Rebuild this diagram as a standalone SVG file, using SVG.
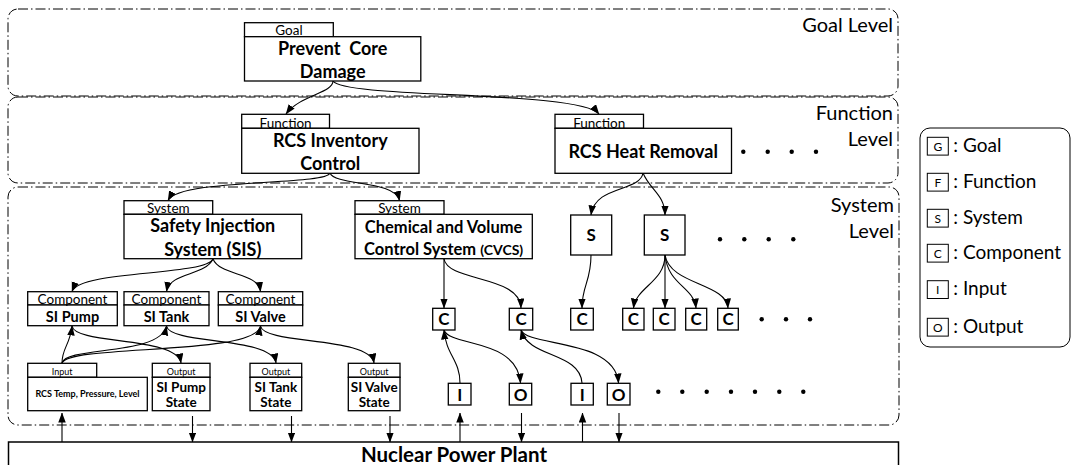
<svg xmlns="http://www.w3.org/2000/svg" width="1074" height="465" viewBox="0 0 1074 465">
<style>
.lvl{fill:none;stroke:#000;stroke-width:1;stroke-dasharray:10 3 1.5 3}
.box{fill:#fff;stroke:#000;stroke-width:1.3}
.t{font-family:Lato,"Open Sans",sans-serif;fill:#000}
.b{font-weight:bold}
.c{text-anchor:middle}
.lv{font-size:20px;text-anchor:end}
.tab{font-size:13.5px}
.main{font-size:18px;font-weight:bold}
.cmp{font-size:14.5px;font-weight:bold}
.let{font-size:17px;font-weight:bold}
.sm{font-size:9px}
.con{fill:none;stroke:#000;stroke-width:1.1}
.dot{fill:#000}
.lg{font-size:19px}
.lgl{font-size:12px}
</style>
<defs>
<marker id="ah" markerUnits="userSpaceOnUse" markerWidth="10" markerHeight="8" refX="9.5" refY="3.75" orient="auto">
<path d="M0,0 L10,3.75 L0,7.5 z" fill="#000"/>
</marker>
</defs>

<g id="levels">
<rect class="lvl" x="8" y="9" width="890" height="87" rx="10"/>
<rect class="lvl" x="8" y="97" width="890" height="86" rx="10"/>
<rect class="lvl" x="8" y="187" width="891" height="238" rx="10"/>
<text class="t lv" x="893" y="31.5">Goal Level</text>
<text class="t lv" x="893" y="120">Function</text>
<text class="t lv" x="893" y="145.5">Level</text>
<text class="t lv" x="894" y="211.5">System</text>
<text class="t lv" x="894" y="238">Level</text>
</g>

<g id="connectors">
<path class="con" marker-end="url(#ah)" d="M333,81 C333,93 300,95 286,114"/>
<path class="con" marker-end="url(#ah)" d="M333,81 C345,99 580,90 599,114"/>
<path class="con" marker-end="url(#ah)" d="M330,173 C325,186 180,178 168,200.5"/>
<path class="con" marker-end="url(#ah)" d="M330,173 C335,186 395,180 399.5,200.5"/>
<path class="con" marker-end="url(#ah)" d="M643,173 C640,192 595,185 591,215"/>
<path class="con" marker-end="url(#ah)" d="M643,173 C650,190 665,195 665,215"/>
<path class="con" marker-end="url(#ah)" d="M213,259 C205,276 80,270 72,291.5"/>
<path class="con" marker-end="url(#ah)" d="M213,259 C205,276 170,272 166.5,291.5"/>
<path class="con" marker-end="url(#ah)" d="M213,259 C220,276 258,272 260.5,291.5"/>
<path class="con" marker-end="url(#ah)" d="M444,259 L444,308"/>
<path class="con" marker-end="url(#ah)" d="M444,259 C448,282 520,275 521,308"/>
<path class="con" marker-end="url(#ah)" d="M591,255 C591,282 582,285 582,308"/>
<path class="con" marker-end="url(#ah)" d="M665,255 C665,282 636,287 633.5,308"/>
<path class="con" marker-end="url(#ah)" d="M665,255 L665,308"/>
<path class="con" marker-end="url(#ah)" d="M665,255 C668,285 694,287 696,308"/>
<path class="con" marker-end="url(#ah)" d="M665,255 C670,285 726,283 728,308"/>
<path class="con" marker-end="url(#ah)" d="M72,326 C75,345 177,336 181,363"/>
<path class="con" marker-end="url(#ah)" d="M166.5,326 C170,345 272,336 276,363"/>
<path class="con" marker-end="url(#ah)" d="M260.5,326 C264,345 370,336 374,363"/>
<path class="con" marker-end="url(#ah)" d="M62,363 C62,348 70,345 72,326"/>
<path class="con" marker-end="url(#ah)" d="M62,363 C66,346 160,356 166.5,326"/>
<path class="con" marker-end="url(#ah)" d="M62,363 C70,344 255,356 260.5,326"/>
<path class="con" marker-end="url(#ah)" d="M444,330 C450,347 517,338 520.5,383"/>
<path class="con" marker-end="url(#ah)" d="M460,383 C460,360 446,355 444,330"/>
<path class="con" marker-end="url(#ah)" d="M521,330 C527,347 615,338 618.5,383"/>
<path class="con" marker-end="url(#ah)" d="M582,383 C580,352 528,358 521,330"/>
<path class="con" marker-end="url(#ah)" d="M62,442 L62,413"/>
<path class="con" marker-end="url(#ah)" d="M192.5,416 L192.5,442"/>
<path class="con" marker-end="url(#ah)" d="M291.5,416 L291.5,442"/>
<path class="con" marker-end="url(#ah)" d="M390,416 L390,442"/>
<path class="con" marker-end="url(#ah)" d="M460,442 L460,413"/>
<path class="con" marker-end="url(#ah)" d="M521.5,413 L521.5,442"/>
<path class="con" marker-end="url(#ah)" d="M582.5,442 L582.5,413"/>
<path class="con" marker-end="url(#ah)" d="M619,413 L619,442"/>
</g>

<g id="goal">
<rect class="box" x="244.5" y="22.7" width="88.8" height="14"/>
<rect class="box" x="244.5" y="36.7" width="176.3" height="44.3"/>
<text class="t tab c" x="289" y="35">Goal</text>
<text class="t main c" x="332.7" y="54.5" xml:space="preserve">Prevent  Core</text>
<text class="t main c" x="332.7" y="77.5">Damage</text>
</g>

<g id="func-inventory">
<rect class="box" x="241.7" y="114.3" width="87.8" height="14"/>
<rect class="box" x="241.7" y="128.3" width="177.3" height="45"/>
<text class="t tab c" x="285.6" y="127.5">Function</text>
<text class="t main c" x="330.3" y="146.7">RCS Inventory</text>
<text class="t main c" x="330.3" y="170">Control</text>
</g>

<g id="func-heat">
<rect class="box" x="555" y="114.3" width="88.5" height="14"/>
<rect class="box" x="555" y="128.3" width="176.5" height="45"/>
<text class="t tab c" x="599.2" y="127.5">Function</text>
<text class="t main c" x="643.2" y="157.7">RCS Heat Removal</text>
</g>

<g id="sys-sis">
<rect class="box" x="124" y="200.7" width="88.7" height="13.6"/>
<rect class="box" x="124" y="214.3" width="177.7" height="44.4"/>
<text class="t tab c" x="168.3" y="213">System</text>
<text class="t main c" x="212.8" y="232.3">Safety Injection</text>
<text class="t main c" x="212.8" y="256">System (SIS)</text>
</g>

<g id="sys-cvcs">
<rect class="box" x="355" y="200.7" width="89" height="13.6"/>
<rect class="box" x="355" y="214.3" width="177.3" height="44.4"/>
<text class="t tab c" x="399.5" y="213">System</text>
<text class="t b c" x="443.6" y="233.3" font-size="16.5">Chemical and Volume</text>
<text class="t b c" x="443.6" y="255" font-size="16.5">Control System <tspan font-size="14">(CVCS)</tspan></text>
</g>

<g id="sys-s1"><rect class="box" x="570.7" y="215" width="41" height="40"/><text class="t let c" x="591.2" y="241">S</text></g>
<g id="sys-s2"><rect class="box" x="644.3" y="215" width="40.7" height="40"/><text class="t let c" x="664.7" y="241">S</text></g>

<g id="comp-pump">
<rect class="box" x="27.7" y="291.7" width="89.6" height="13.3"/>
<rect class="box" x="27.7" y="305" width="89.6" height="20.7"/>
<text class="t tab c" x="72.5" y="304" font-size="13">Component</text>
<text class="t cmp c" x="72.5" y="321.5">SI Pump</text>
</g>
<g id="comp-tank">
<rect class="box" x="124" y="291.7" width="85" height="13.3"/>
<rect class="box" x="124" y="305" width="85" height="20.7"/>
<text class="t tab c" x="166.5" y="304" font-size="13">Component</text>
<text class="t cmp c" x="166.5" y="321.5">SI Tank</text>
</g>
<g id="comp-valve">
<rect class="box" x="218.3" y="291.7" width="84.4" height="13.3"/>
<rect class="box" x="218.3" y="305" width="84.4" height="20.7"/>
<text class="t tab c" x="260.5" y="304" font-size="13">Component</text>
<text class="t cmp c" x="260.5" y="321.5">SI Valve</text>
</g>

<g id="c1"><rect class="box" x="432.7" y="308.3" width="22.3" height="21.7"/><text class="t let c" x="443.8" y="325.3">C</text></g>
<g id="c2"><rect class="box" x="509.3" y="308.3" width="23.4" height="21.7"/><text class="t let c" x="521" y="325.3">C</text></g>
<g id="c3"><rect class="box" x="570.7" y="308.3" width="22.6" height="21.7"/><text class="t let c" x="582" y="325.3">C</text></g>
<g id="c4"><rect class="box" x="622.7" y="308.3" width="21.3" height="21.7"/><text class="t let c" x="633.3" y="325.3">C</text></g>
<g id="c5"><rect class="box" x="653.3" y="308.3" width="21.7" height="21.7"/><text class="t let c" x="664.2" y="325.3">C</text></g>
<g id="c6"><rect class="box" x="685.7" y="308.3" width="21" height="21.7"/><text class="t let c" x="696.2" y="325.3">C</text></g>
<g id="c7"><rect class="box" x="717.7" y="308.3" width="20.6" height="21.7"/><text class="t let c" x="728" y="325.3">C</text></g>

<g id="input">
<rect class="box" x="27.7" y="363.3" width="69" height="14"/>
<rect class="box" x="27.7" y="377.3" width="119.6" height="33.4"/>
<text class="t sm c" x="62.2" y="375">Input</text>
<text class="t sm b c" x="87.5" y="397">RCS Temp, Pressure, Level</text>
</g>
<g id="out-pump">
<rect class="box" x="152.3" y="363.3" width="57.7" height="14"/>
<rect class="box" x="152.3" y="377.3" width="57.7" height="33.4"/>
<text class="t sm c" x="181.2" y="375">Output</text>
<text class="t b c" x="181.2" y="392.3" font-size="13.5">SI Pump</text>
<text class="t b c" x="181.2" y="407.3" font-size="13.5">State</text>
</g>
<g id="out-tank">
<rect class="box" x="250" y="363.3" width="51.7" height="14"/>
<rect class="box" x="250" y="377.3" width="51.7" height="33.4"/>
<text class="t sm c" x="275.9" y="375">Output</text>
<text class="t b c" x="275.9" y="392.3" font-size="13.5">SI Tank</text>
<text class="t b c" x="275.9" y="407.3" font-size="13.5">State</text>
</g>
<g id="out-valve">
<rect class="box" x="348.3" y="363.3" width="51.7" height="14"/>
<rect class="box" x="348.3" y="377.3" width="51.7" height="33.4"/>
<text class="t sm c" x="374.2" y="375">Output</text>
<text class="t b c" x="374.2" y="392.3" font-size="13.5">SI Valve</text>
<text class="t b c" x="374.2" y="407.3" font-size="13.5">State</text>
</g>

<g id="i1"><rect class="box" x="448.3" y="383.3" width="22.7" height="21.7"/><text class="t let c" x="459.7" y="400.5">I</text></g>
<g id="o1"><rect class="box" x="509.3" y="383.3" width="22.4" height="21.7"/><text class="t let c" x="520.5" y="400.5">O</text></g>
<g id="i2"><rect class="box" x="571" y="383.3" width="22.3" height="21.7"/><text class="t let c" x="582.2" y="400.5">I</text></g>
<g id="o2"><rect class="box" x="607.3" y="383.3" width="22.7" height="21.7"/><text class="t let c" x="618.7" y="400.5">O</text></g>

<g id="dots">
<circle class="dot" cx="743.3" cy="151.7" r="2.2"/><circle class="dot" cx="767.7" cy="151.7" r="2.2"/><circle class="dot" cx="791.7" cy="151.7" r="2.2"/><circle class="dot" cx="816" cy="151.7" r="2.2"/>
<circle class="dot" cx="720" cy="239.3" r="2.2"/><circle class="dot" cx="744.3" cy="239.3" r="2.2"/><circle class="dot" cx="768.7" cy="239.3" r="2.2"/><circle class="dot" cx="793.3" cy="239.3" r="2.2"/>
<circle class="dot" cx="761.7" cy="319.3" r="2.2"/><circle class="dot" cx="786" cy="319.3" r="2.2"/><circle class="dot" cx="810" cy="319.3" r="2.2"/>
<circle class="dot" cx="658.3" cy="391.7" r="2.2"/><circle class="dot" cx="682.3" cy="391.7" r="2.2"/><circle class="dot" cx="706.7" cy="391.7" r="2.2"/><circle class="dot" cx="731" cy="391.7" r="2.2"/><circle class="dot" cx="755" cy="391.7" r="2.2"/><circle class="dot" cx="779.3" cy="391.7" r="2.2"/><circle class="dot" cx="803.3" cy="391.7" r="2.2"/>
</g>

<g id="npp">
<rect x="8.5" y="442" width="890" height="40" fill="#fff" stroke="#000" stroke-width="1.5"/>
<text class="t b c" x="454" y="461.7" font-size="20.5">Nuclear Power Plant</text>
</g>

<g id="legend">
<rect x="920" y="128" width="150" height="219" rx="10" fill="#fff" stroke="#000" stroke-width="1"/>
<rect x="927.3" y="137.3" width="21" height="17.8" fill="#fff" stroke="#000" stroke-width="1"/>
<text class="t lgl c" x="937.8" y="150.5">G</text>
<text class="t lg" x="953.3" y="152">: Goal</text>
<rect x="927.3" y="173.3" width="21" height="17.8" fill="#fff" stroke="#000" stroke-width="1"/>
<text class="t lgl c" x="937.8" y="186.5">F</text>
<text class="t lg" x="953.3" y="188">: Function</text>
<rect x="927.3" y="209.3" width="21" height="17.8" fill="#fff" stroke="#000" stroke-width="1"/>
<text class="t lgl c" x="937.8" y="222.5">S</text>
<text class="t lg" x="953.3" y="224">: System</text>
<rect x="927.3" y="244.3" width="21" height="17.8" fill="#fff" stroke="#000" stroke-width="1"/>
<text class="t lgl c" x="937.8" y="257.5">C</text>
<text class="t lg" x="953.3" y="259">: Component</text>
<rect x="927.3" y="280.7" width="21" height="17.8" fill="#fff" stroke="#000" stroke-width="1"/>
<text class="t lgl c" x="937.8" y="293.9">I</text>
<text class="t lg" x="953.3" y="295.4">: Input</text>
<rect x="927.3" y="318.3" width="21" height="17.8" fill="#fff" stroke="#000" stroke-width="1"/>
<text class="t lgl c" x="937.8" y="331.5">O</text>
<text class="t lg" x="953.3" y="333">: Output</text>
</g>
</svg>
